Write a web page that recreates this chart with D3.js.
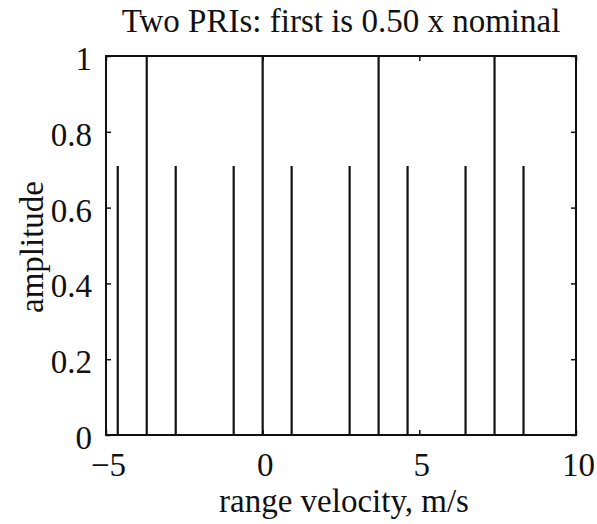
<!DOCTYPE html>
<html><head><meta charset="utf-8">
<script src="https://cdn.jsdelivr.net/npm/d3@7"></script>
<style>body{margin:0;background:#fff}</style>
</head><body><svg id="c" width="597" height="524"></svg>
<script>
const mainPos = [-3.7, 0, 3.7, 7.4];
const mainAmp = [1, 1, 1, 1];
const sidePos = [-4.625, -2.775, -0.925, 0.925, 2.775, 4.625, 6.475, 8.325];
const sideAmp = [0.71, 0.71, 0.71, 0.71, 0.71, 0.71, 0.71, 0.71];
const xTicks = [-5, 0, 5, 10];
const yTicks = [0, 0.2, 0.4, 0.6, 0.8, 1];
const yTickLabels = ["0", "0.2", "0.4", "0.6", "0.8", "1"];
const title = "Two PRIs: first is 0.50 x nominal";
const xLabel = "range velocity, m/s";
const yLabel = "amplitude";

const L = 106, R = 576, T = 56, B = 435;
const FS = 33;
const svg = d3.select("#c");
const font = "'Liberation Serif', 'DejaVu Serif', serif";
const x = d3.scaleLinear().domain([-5, 10]).range([L, R]);
const y = d3.scaleLinear().domain([0, 1]).range([B, T]);

const peaks = mainPos.map((p, i) => ({p, a: mainAmp[i]}))
  .concat(sidePos.map((p, i) => ({p, a: sideAmp[i]})));
svg.append("g").selectAll("line").data(peaks).join("line")
  .attr("x1", d => x(d.p)).attr("x2", d => x(d.p))
  .attr("y1", y(0)).attr("y2", d => y(d.a))
  .attr("stroke", "#111").attr("stroke-width", 2.2);

const tl = 5;
const gB = svg.append("g").attr("transform", `translate(2,${B})`)
  .call(d3.axisBottom(x).tickValues(xTicks).tickSize(-tl).tickPadding(18).tickFormat(d => d < 0 ? "\u2212" + Math.abs(d) : d));
const gT = svg.append("g").attr("transform", `translate(0,${T})`)
  .call(d3.axisTop(x).tickValues(xTicks).tickSize(-tl).tickFormat(""));
const gL = svg.append("g").attr("transform", `translate(${L},3)`)
  .call(d3.axisLeft(y).tickValues(yTicks).tickSize(-tl).tickPadding(14).tickFormat((d) => yTickLabels[yTicks.indexOf(d)]));
const gR = svg.append("g").attr("transform", `translate(${R},0)`)
  .call(d3.axisRight(y).tickValues(yTicks).tickSize(-tl).tickFormat(""));
[gB, gT, gL, gR].forEach(g => {
  g.select(".domain").remove();
  g.selectAll("line").attr("stroke", "#111").attr("stroke-width", 1.5);
  g.selectAll("text").attr("font-family", font).attr("font-size", FS).attr("fill", "#111");
});
gB.selectAll("line").attr("transform", "translate(-2,0)");
gL.selectAll("line").attr("transform", "translate(0,-3)");
gB.selectAll("text").attr("dy", "0.71em");
svg.append("rect").attr("x", L).attr("y", T).attr("width", R - L).attr("height", B - T)
  .attr("fill", "none").attr("stroke", "#111").attr("stroke-width", 2);

svg.append("text").attr("x", 341).attr("y", 32).attr("text-anchor", "middle")
  .attr("font-family", font).attr("font-size", FS).attr("fill", "#111").text(title);
svg.append("text").attr("x", 344).attr("y", 512).attr("text-anchor", "middle")
  .attr("font-family", font).attr("font-size", FS).attr("fill", "#111").text(xLabel);
svg.append("text").attr("transform", `translate(43,247) rotate(-90)`).attr("text-anchor", "middle")
  .attr("font-family", font).attr("font-size", FS).attr("fill", "#111").text(yLabel);
</script></body></html>
